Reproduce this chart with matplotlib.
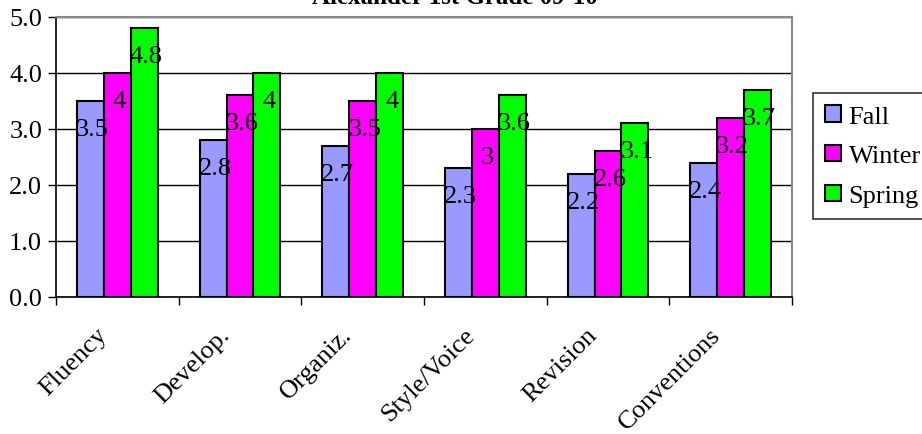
# Grouped bar chart of writing trait scores, Alexander 1st grade 09-10

import numpy as np
import matplotlib.pyplot as plt

categories = ['Fluency', 'Develop.', 'Organiz.', 'Style/Voice', 'Revision', 'Conventions']
fall = [3.5, 2.8, 2.7, 2.3, 2.2, 2.4]
winter = [4, 3.6, 3.5, 3, 2.6, 3.2]
spring = [4.8, 4, 4, 3.6, 3.1, 3.7]
series_names = ['Fall', 'Winter', 'Spring']
colors = ['#9999FF', '#FF00FF', '#00FF00']

plt.rcParams['font.family'] = ['Liberation Serif', 'DejaVu Serif']

fig = plt.figure(figsize=(9.22, 4.35), dpi=100)
W, H = 922, 435
ax = fig.add_axes([56/W, 1 - 298/H, (792-56)/W, (298-18)/H])

x = np.arange(len(categories))
bw = 0.22
handles = []
for i, (vals, name, c) in enumerate(zip([fall, winter, spring], series_names, colors)):
    pos = x + (i - 1) * bw
    b = ax.bar(pos, vals, bw, color=c, edgecolor='black', linewidth=1.5, label=name, zorder=3)
    handles.append(b)
    for p, v in zip(pos, vals):
        ax.annotate('%g' % v, (p, v), xytext=(2, -28), textcoords='offset pixels',
                    ha='center', va='center', fontsize=19, zorder=4)

ax.set_xlim(-0.5, len(categories) - 0.5)
ax.set_ylim(0, 5)
ax.set_yticks(np.arange(0, 5.01, 1.0))
ax.set_yticklabels(['%.1f' % t for t in np.arange(0, 5.01, 1.0)], fontsize=19)
ax.yaxis.grid(True, color='black', linewidth=1)
ax.set_axisbelow(True)

ax.set_xticks(np.arange(-0.5, len(categories) - 0.4, 1.0))
ax.set_xticklabels([])
ax.tick_params(axis='x', length=6, width=1, direction='out')
ax.tick_params(axis='y', length=6, width=1, direction='out', pad=4)
for xi, lab in zip(x, categories):
    ax.annotate(lab, (xi, 0), xycoords=('data', 'axes fraction'), xytext=(-14, -34),
                textcoords='offset pixels', rotation=45, ha='right', va='center',
                rotation_mode='anchor', fontsize=19)

ax.spines['top'].set_color('#888888')
ax.spines['right'].set_color('#888888')
ax.spines['top'].set_linewidth(1.5)
ax.spines['right'].set_linewidth(1.5)
ax.spines['left'].set_linewidth(1.2)
ax.spines['bottom'].set_linewidth(1.2)

leg = fig.legend(handles=handles, loc='upper left', bbox_to_anchor=(813/W, 1 - 94/H),
                 fontsize=19, frameon=True, fancybox=False, edgecolor='black',
                 handlelength=0.6, handleheight=0.6, handletextpad=0.3,
                 borderpad=0.45, labelspacing=0.65, borderaxespad=0)
leg.get_frame().set_linewidth(1.2)

fig.text(455/W, 1 - 4/H, 'Alexander 1st Grade 09-10', ha='center', va='baseline',
         fontsize=18, fontweight='bold')

fig.savefig('out.png', dpi=100)
